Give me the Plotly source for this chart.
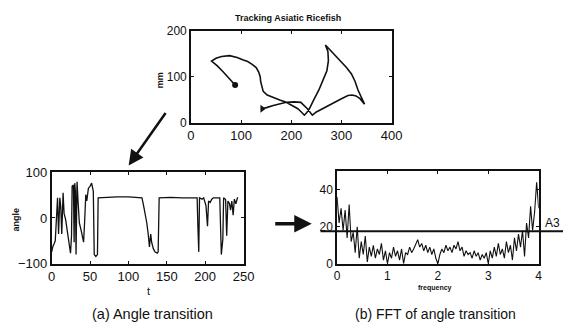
import plotly.graph_objects as go

# ---------------- data ----------------
# Top: tracked trajectory (mm)
track_x = [88, 76, 63, 52, 41, 50, 61, 77, 92, 103, 113, 122, 130, 135, 138, 139, 141, 144, 152, 164, 177, 190, 202,
           213, 220, 226, 231, 236, 245, 255, 263, 271, 274, 273, 268, 280, 290, 300, 310, 320, 327, 333, 340, 346,
           337, 329, 321, 313, 300, 287, 275, 262, 250, 242, 232, 219, 206, 190, 177, 164, 152, 142]
track_y = [82, 97, 112, 124, 134, 140, 144, 146, 142, 137, 133, 127, 120, 110, 100, 89, 78, 68, 60, 54, 49, 44, 37,
           30, 23, 16, 22, 30, 50, 71, 92, 113, 135, 155, 169, 155, 145, 134, 120, 106, 90, 71, 55, 40,
           52, 58, 60, 59, 52, 44, 37, 30, 23, 16, 30, 44, 45, 44, 41, 37, 33, 30]

# Bottom-left: angle transition
t_vals = [0, 1.5, 3.4, 4.6, 6.3, 7.6, 8.9, 10.6, 11.8, 13.1, 14.8, 16.1, 18.2, 20.3, 22.4, 24.5, 25.8, 26.6,
          28.3, 29.2, 30.0, 30.9, 31.7, 33.0, 34.3, 36.0, 38.5, 40.2, 41.5, 42.8, 44.4, 45.7, 47.8, 49.9, 52.0,
          54.2, 55.4, 57.5, 59.6, 60.5, 70, 85, 100, 110, 117.6, 119.7, 121.8, 123.9, 126.0, 127.3, 129.0,
          130.2, 132.4, 134.5, 137.5, 138.7, 140.0, 155, 170, 189.5, 190.5, 191.6, 192.6, 195.8, 198.0, 201.0,
          203.0, 204.4, 206.5, 208.6, 210.7, 219.0, 221.0, 223.0, 224.0, 226.6, 228.0, 229.6, 231.7, 233.0,
          234.7, 236.4, 238.0, 240.0, 242.0, 243.0]
angle_vals = [-74, -62, -55, -50, 3, 44, -35, 44, 24, -35, 55, 10, -4, -30, -53, -77, -39, 69,
              72, -53, 76, 58, -80, 79, 37, -11, -28, -39, -53, -11, 51, 37, 65, 69, 76,
              58, -80, -84, -80, 44, 45, 46, 46, 45, 44, 27, 10, -11, -39, -63, -35,
              -53, -67, -74, -77, -74, 44, 45, 44, 44, -20, -74, 44, 41, 44, 27,
              -18, 37, 34, 41, 44, 44, -80, -46, 44, 40, -39, 37, 31, 17,
              37, 6, 41, 31, 44, 44]

# Bottom-right: FFT of angle transition
freq = [0.00, 0.04, 0.08, 0.12, 0.16, 0.20, 0.24, 0.28, 0.32, 0.36, 0.40, 0.44, 0.48, 0.52, 0.56, 0.60, 0.64,
        0.68, 0.72, 0.76, 0.80, 0.84, 0.88, 0.92, 0.96, 1.00, 1.04, 1.08, 1.12, 1.16, 1.20, 1.24, 1.28, 1.32,
        1.36, 1.40, 1.44, 1.48, 1.52, 1.56, 1.60, 1.64, 1.68, 1.72, 1.76, 1.80, 1.84, 1.88, 1.92, 1.96, 2.00,
        2.04, 2.08, 2.12, 2.16, 2.20, 2.24, 2.28, 2.32, 2.36, 2.40, 2.44, 2.48, 2.52, 2.56, 2.60, 2.64, 2.68,
        2.72, 2.76, 2.80, 2.84, 2.88, 2.92, 2.96, 3.00, 3.04, 3.08, 3.12, 3.16, 3.20, 3.24, 3.28, 3.32, 3.36,
        3.40, 3.44, 3.48, 3.52, 3.56, 3.60, 3.64, 3.68, 3.72, 3.76, 3.80, 3.84, 3.88, 3.92, 3.96, 4.00]
fft_mag = [36, 22, 30, 18, 29, 14, 32, 12, 17, 6, 20, 3, 12, 5, 15, 1, 9,
           4, 10, 3, 8, 5, 11, 2, 7, 0, 6, 3, 9, 4, 7, 2, 8, 0,
           6, 5, 9, 6, 8, 11, 13, 9, 11, 7, 10, 6, 9, 5, 8, 3, 0,
           5, 8, 6, 10, 7, 9, 6, 10, 8, 12, 7, 9, 4, 7, 5, 6, 3,
           7, 4, 6, 2, 5, 3, 6, 0, 7, 3, 9, 4, 11, 5, 8, 3, 12,
           6, 10, 2, 14, 7, 16, 9, 18, 4, 22, 14, 31, 18, 28, 44, 30]
threshold_a3 = 17.5

x_ticks_top = [0, 100, 200, 300, 400]
y_ticks_top = [0, 100, 200]
x_ticks_a = [0, 50, 100, 150, 200, 250]
y_ticks_a = [-100, 0, 100]
x_ticks_b = [0, 1, 2, 3, 4]
y_ticks_b = [0, 20, 40]

# ---------------- figure ----------------
W, H = 574, 330
def px(x): return x / W
def py(y): return 1 - y / H

INK = "#111111"
FONT = "Liberation Sans, Arial, sans-serif"

fig = go.Figure()
fig.add_trace(go.Scatter(x=track_x, y=track_y, mode="lines", line=dict(color=INK, width=1.6),
                         xaxis="x", yaxis="y", showlegend=False))
fig.add_trace(go.Scatter(x=[track_x[0]], y=[track_y[0]], mode="markers",
                         marker=dict(symbol="circle", size=6, color=INK), xaxis="x", yaxis="y", showlegend=False))
fig.add_trace(go.Scatter(x=[track_x[-1]], y=[track_y[-1]], mode="markers",
                         marker=dict(symbol="triangle-right", size=7, color=INK), xaxis="x", yaxis="y", showlegend=False))
fig.add_trace(go.Scatter(x=t_vals, y=angle_vals, mode="lines", line=dict(color=INK, width=1.3),
                         xaxis="x2", yaxis="y2", showlegend=False))
fig.add_trace(go.Scatter(x=freq, y=fft_mag, mode="lines", line=dict(color=INK, width=1.1),
                         xaxis="x3", yaxis="y3", showlegend=False))

def ax(domain, rng, ticks, anchor, size=13):
    return dict(domain=domain, range=rng, tickvals=ticks, anchor=anchor, showline=True, linecolor=INK,
                linewidth=1.6, mirror="ticks", ticks="inside", ticklen=3, tickcolor=INK, showgrid=False,
                zeroline=False, tickfont=dict(family=FONT, size=size, color=INK))

fig.update_layout(
    width=W, height=H, margin=dict(l=0, r=0, t=0, b=0),
    paper_bgcolor="white", plot_bgcolor="white",
    xaxis=ax([px(192), px(398)], [0, 400], x_ticks_top, "y"),
    yaxis=ax([py(121), py(25)], [0, 200], y_ticks_top, "x", size=12),
    xaxis2=ax([px(49), px(246)], [0, 250], x_ticks_a, "y2"),
    yaxis2=ax([py(269), py(173)], [-100, 100], y_ticks_a, "x2"),
    xaxis3=ax([px(342), px(549)], [0, 4], x_ticks_b, "y3", size=12),
    yaxis3=ax([py(269), py(172)], [0, 50], y_ticks_b, "x3", size=12),
)

fig.add_shape(type="line", xref="paper", yref="y3", x0=px(325), x1=1.0, y0=threshold_a3, y1=threshold_a3,
              line=dict(color=INK, width=2))

def label(text, x, y, size, bold=False, angle=0):
    fig.add_annotation(text=f"<b>{text}</b>" if bold else text, x=px(x), y=py(y), xref="paper", yref="paper",
                       showarrow=False, textangle=angle, xanchor="center", yanchor="middle",
                       font=dict(family=FONT, size=size, color=INK))

label("Tracking Asiatic Ricefish", 292, 12, 9, bold=True)
label("mm", 160, 77, 9, bold=True, angle=-90)
label("angle", 12, 223, 9, bold=True, angle=-90)
label("t", 148, 297, 11)
label("frequency", 443, 294, 7, bold=True)
label("(a) Angle transition", 152, 322, 14.5)
label("(b) FFT of angle transition", 443, 322, 14)
label("A3", 563, 226, 12)

# arrows
fig.add_annotation(x=px(128), y=py(166), xref="paper", yref="paper", ax=38, ay=-54, text="",
                   showarrow=True, arrowhead=2, arrowsize=1.2, arrowwidth=2.5, arrowcolor=INK, standoff=0)
fig.add_annotation(x=px(316), y=py(227), xref="paper", yref="paper", ax=-38, ay=0, text="",
                   showarrow=True, arrowhead=2, arrowsize=1.0, arrowwidth=3.5, arrowcolor=INK, standoff=0)

fig.write_html("out.html")
